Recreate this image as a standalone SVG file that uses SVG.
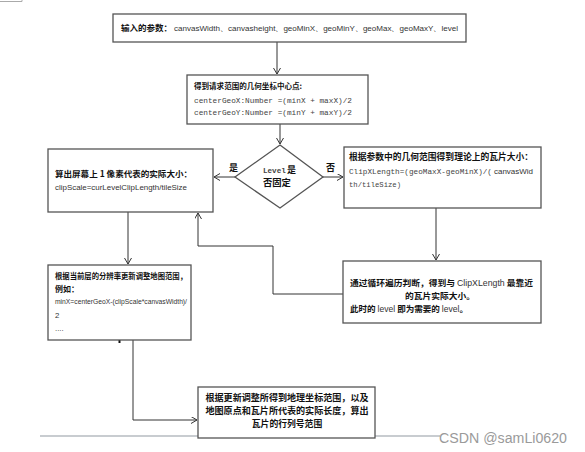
<svg xmlns="http://www.w3.org/2000/svg" width="585" height="452" viewBox="0 0 585 452">
<defs>
<marker id="arr" markerWidth="8" markerHeight="8" refX="6" refY="3.5" orient="auto" markerUnits="userSpaceOnUse">
<path d="M0,0 L6,3.5 L0,7" fill="none" stroke="#333" stroke-width="1"/>
</marker>
<style>
.box{fill:#fff;stroke:#555;stroke-width:1.3}
.cn{font-family:"Noto Sans CJK SC","Noto Sans CJK JP",sans-serif;font-weight:bold;fill:#111}
.mono{font-family:"Liberation Mono","DejaVu Sans Mono",monospace;fill:#444}
.lat{font-family:"Liberation Sans","Noto Sans",sans-serif;fill:#333}
.con{fill:none;stroke:#333;stroke-width:1}
</style>
</defs>
<rect width="585" height="452" fill="#fff"/>
<path d="M0,1.5 H22 V0" fill="none" stroke="#aaa" stroke-width="1"/>
<line x1="40" y1="436" x2="440" y2="436" stroke="#c8ccd0" stroke-width="2"/>

<g id="connectors">
<line class="con" x1="277" y1="42" x2="277" y2="74" marker-end="url(#arr)"/>
<line class="con" x1="280" y1="124" x2="280" y2="144" marker-end="url(#arr)"/>
<line class="con" x1="235" y1="177" x2="214" y2="177" marker-end="url(#arr)"/>
<line class="con" x1="323" y1="177" x2="343" y2="177" marker-end="url(#arr)"/>
<line class="con" x1="436" y1="208" x2="436" y2="260" marker-end="url(#arr)"/>
<polyline class="con" points="343,294 273,294 273,246 198,246 198,213" marker-end="url(#arr)"/>
<line class="con" x1="128" y1="212" x2="128" y2="264" marker-end="url(#arr)"/>
<polyline class="con" points="133,340 133,420 197,420" marker-end="url(#arr)"/>
<line x1="119.5" y1="333" x2="119.5" y2="343" stroke="#111" stroke-width="2"/>
</g>

<g id="n1">
<rect class="box" x="113" y="14" width="353" height="28"/>
<text class="cn" x="121" y="31" font-size="8.5" textLength="51" lengthAdjust="spacingAndGlyphs">输入的参数：</text>
<text class="lat" x="174" y="31" font-size="8" textLength="284" lengthAdjust="spacingAndGlyphs">canvasWidth、canvasheight、geoMinX、geoMinY、geoMax、geoMaxY、level</text>
</g>

<g id="n2">
<rect class="box" x="187" y="75" width="181" height="49"/>
<text class="cn" x="194" y="89" font-size="7.5" textLength="108" lengthAdjust="spacingAndGlyphs">得到请求范围的几何坐标中心点:</text>
<text class="mono" x="194" y="103" font-size="7.7" textLength="158" lengthAdjust="spacingAndGlyphs">centerGeoX:Number =(minX + maxX)/2</text>
<text class="mono" x="194" y="115" font-size="7.7" textLength="158" lengthAdjust="spacingAndGlyphs">centerGeoY:Number =(minY + maxY)/2</text>
</g>

<g id="n3">
<rect class="box" x="48" y="149" width="165" height="63"/>
<text class="cn" x="55" y="177" font-size="8.3" textLength="137" lengthAdjust="spacingAndGlyphs">算出屏幕上 1 像素代表的实际大小：</text>
<text class="lat" x="55" y="190" font-size="7.8" textLength="132" lengthAdjust="spacingAndGlyphs">clipScale=curLevelClipLength/tileSize</text>
</g>

<g id="d1">
<polygon points="280,145 323,177 280,208 235,177" fill="#fff" stroke="#555" stroke-width="1.3"/>
<text class="mono" x="263" y="173" font-size="7.6" font-weight="bold" fill="#222">Level</text>
<text class="cn" x="287" y="173" font-size="9">是</text>
<text class="cn" x="263" y="186" font-size="9.3">否固定</text>
<text class="cn" x="229" y="171" font-size="9">是</text>
<text class="cn" x="326" y="171" font-size="9">否</text>
</g>

<g id="n4">
<rect class="box" x="344" y="147" width="197" height="61"/>
<text class="cn" x="349" y="160" font-size="8.6" textLength="184" lengthAdjust="spacingAndGlyphs">根据参数中的几何范围得到理论上的瓦片大小：</text>
<text class="mono" x="349" y="174" font-size="7.6" textLength="143" lengthAdjust="spacingAndGlyphs">ClipXLength=(geoMaxX-geoMinX)/(</text>
<text class="lat" x="494" y="174" font-size="7.8" textLength="39" lengthAdjust="spacingAndGlyphs">canvasWid</text>
<text class="mono" x="349" y="187" font-size="7.6" textLength="52" lengthAdjust="spacingAndGlyphs">th/tileSize)</text>
</g>

<g id="n5">
<rect class="box" x="343" y="261" width="198" height="62"/>
<text x="350" y="286" font-size="8.4" textLength="183" lengthAdjust="spacingAndGlyphs"><tspan class="cn">通过循环遍历判断，得到与 </tspan><tspan class="lat">ClipXLength</tspan><tspan class="cn"> 最靠近</tspan></text>
<text class="cn" x="405" y="299" font-size="8.4" textLength="70" lengthAdjust="spacingAndGlyphs">的瓦片实际大小。</text>
<text x="350" y="312" font-size="8.4" textLength="118" lengthAdjust="spacingAndGlyphs"><tspan class="cn">此时的 </tspan><tspan class="lat">level</tspan><tspan class="cn"> 即为需要的 </tspan><tspan class="lat">level</tspan><tspan class="cn">。</tspan></text>
</g>

<g id="n6">
<rect class="box" x="48" y="265" width="143" height="75"/>
<text class="cn" x="55" y="279" font-size="8" textLength="132" lengthAdjust="spacingAndGlyphs">根据当前层的分辨率更新调整地图范围，</text>
<text class="cn" x="55" y="292" font-size="8">例如：</text>
<text class="lat" x="55" y="304" font-size="7.8" textLength="132" lengthAdjust="spacingAndGlyphs">minX=centerGeoX-(clipScale*canvasWidth)/</text>
<text class="lat" x="55" y="318" font-size="7.8">2</text>
<text class="lat" x="55" y="331" font-size="7.8">....</text>
</g>

<g id="n7">
<rect class="box" x="198" y="387" width="177" height="51"/>
<text class="cn" x="287" y="401" font-size="8.8" text-anchor="middle" textLength="163" lengthAdjust="spacingAndGlyphs">根据更新调整所得到地理坐标范围，以及</text>
<text class="cn" x="287" y="414" font-size="8.8" text-anchor="middle" textLength="163" lengthAdjust="spacingAndGlyphs">地图原点和瓦片所代表的实际长度，算出</text>
<text class="cn" x="287" y="427" font-size="8.8" text-anchor="middle">瓦片的行列号范围</text>
</g>

<text x="439" y="443" font-family="Liberation Sans, sans-serif" font-size="14" fill="#9a9a9a" textLength="128" lengthAdjust="spacingAndGlyphs">CSDN @samLi0620</text>
</svg>
